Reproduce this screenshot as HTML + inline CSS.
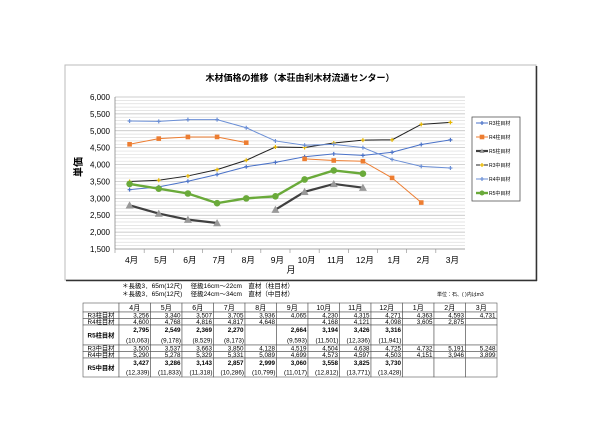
<!DOCTYPE html>
<html><head><meta charset="utf-8"><style>
body{margin:0;background:#fff;width:600px;height:424px;overflow:hidden}
svg{display:block}
text{font-family:"Liberation Sans","Noto Sans CJK JP",sans-serif;fill:#000}
</style></head><body>
<svg id="s" width="600" height="424" viewBox="0 0 600 424">
<rect x="65" y="65" width="471" height="215" fill="#fff" stroke="#bbb" stroke-width="1"/>
<line x1="66" y1="280.5" x2="537" y2="280.5" stroke="#333" stroke-width="1.5"/>
<line x1="536.5" y1="66" x2="536.5" y2="281" stroke="#333" stroke-width="1.5"/>
<text x="300" y="81" font-size="9" font-weight="bold" text-anchor="middle">木材価格の推移（本荘由利木材流通センター）</text>
<g id="grid"></g>
<g id="axes"></g>
<g id="series"></g>
<text x="0" y="0" font-size="10" font-weight="bold" transform="translate(82,167) rotate(-90)" text-anchor="middle">単価</text>
<text x="291" y="273" font-size="9" text-anchor="middle">月</text>
<g><rect x="472" y="117" width="48" height="84" fill="#fff" stroke="#555" stroke-width="0.8"/><g id="legend"></g></g>
<text x="122" y="288" font-size="6.5">＊長級3．65m(12尺)　 径級16cm～22cm　直材（柱目材）</text>
<text x="122" y="296" font-size="6.5">＊長級3．65m(12尺)　 径級24cm～34cm　直材（中目材）</text>
<text x="437" y="296" font-size="5">単位：石、( )内はm3</text>
<g id="table"></g>
</svg>
<script>
const months=["4月","5月","6月","7月","8月","9月","10月","11月","12月","1月","2月","3月"];
const r3Hashira=[3256,3340,3507,3705,3936,4065,4230,4315,4271,4363,4593,4731];
const r4Hashira=[4600,4768,4816,4817,4648,null,4168,4121,4098,3605,2875,null];
const r5Hashira=[2795,2549,2369,2270,null,2664,3194,3426,3316,null,null,null];
const r5HashiraM3=["(10,063)","(9,178)","(8,529)","(8,173)","","(9,593)","(11,501)","(12,336)","(11,941)","","",""];
const r3Naka=[3500,3537,3663,3850,4128,4519,4504,4638,4725,4732,5191,5248];
const r4Naka=[5290,5278,5329,5331,5089,4699,4573,4597,4503,4151,3946,3899];
const r5Naka=[3427,3286,3143,2857,2999,3060,3558,3825,3730,null,null,null];
const r5NakaM3=["(12,339)","(11,833)","(11,318)","(10,286)","(10,799)","(11,017)","(12,812)","(13,771)","(13,428)","","",""];
const yTicks=[1500,2000,2500,3000,3500,4000,4500,5000,5500,6000];
const seriesNames=["R3柱目材","R4柱目材","R5柱目材","R3中目材","R4中目材","R5中目材"];

const NS="http://www.w3.org/2000/svg";
const px0=115,px1=465,py0=249,py1=97,ymin=1500,ymax=6000;
const cw=(px1-px0)/months.length;
const xS=i=>px0+(i+0.5)*cw;
const yS=v=>py0-(v-ymin)/(ymax-ymin)*(py0-py1);
function el(tag,attrs,parent,txt){const e=document.createElementNS(NS,tag);for(const k in attrs)e.setAttribute(k,attrs[k]);if(txt!==undefined)e.textContent=txt;parent.appendChild(e);return e;}
const grid=document.getElementById('grid'),axes=document.getElementById('axes'),ser=document.getElementById('series');
el('rect',{x:px0,y:py1,width:px1-px0,height:py0-py1,fill:'#fff'},grid);
for(let v=ymin+100;v<ymax;v+=100){const g=el('line',{x1:px0,x2:px1,y1:yS(v),y2:yS(v),stroke:v%500===0?'#bbb':'#ddd','stroke-width':0.7},grid);

}
el('line',{x1:px0,x2:px1,y1:py1,y2:py1,stroke:'#bbb','stroke-width':0.7},grid);
el('line',{x1:px0,x2:px0,y1:py1,y2:py0,stroke:'#888','stroke-width':0.8},axes);
el('line',{x1:px0,x2:px1,y1:py0,y2:py0,stroke:'#888','stroke-width':0.8},axes);
yTicks.forEach(v=>{const t=el('text',{x:px0-5,y:yS(v)+3,'font-size':8,'text-anchor':'end'},axes,v.toLocaleString('en-US'));

});
months.forEach((m,i)=>{el('line',{x1:px0+i*cw,x2:px0+i*cw,y1:py0,y2:py0+4,stroke:'#888','stroke-width':0.6},axes);
const t=el('text',{x:xS(i)+2,y:py0+14,'font-size':8.5,'text-anchor':'middle'},axes,m);

});
const styles=[
{d:r3Hashira,c:'#4a72c8',w:1,m:'star',mc:'#4a72c8',ms:2},
{d:r4Hashira,c:'#ed7d31',w:1,m:'sq',mc:'#ed7d31',ms:2.3},
{d:r5Hashira,c:'#404040',w:2.2,m:'tri',mc:'#999',ms:4},
{d:r3Naka,c:'#222',w:1,m:'star',mc:'#e8b800',ms:2},
{d:r4Naka,c:'#6b8fd6',w:1,m:'star',mc:'#6b8fd6',ms:2},
{d:r5Naka,c:'#6aaa3a',w:2.4,m:'circ',mc:'#6aaa3a',ms:3.3}];
function marker(p,s,x,y,size){
 if(s.m==='sq')return el('rect',{x:x-size,y:y-size,width:2*size,height:2*size,fill:s.mc},p);
 if(s.m==='circ')return el('circle',{cx:x,cy:y,r:size,fill:s.mc},p);
 if(s.m==='tri')return el('polygon',{points:`${x},${y-size} ${x-size},${y+size*0.8} ${x+size},${y+size*0.8}`,fill:s.mc},p);
 return el('path',{d:`M${x-size} ${y}H${x+size}M${x} ${y-size}V${y+size}`,stroke:s.mc,'stroke-width':1.2},p);
}
styles.forEach((s,k)=>{
 const g=el('g',{},ser);
 
 
 let segs=[],cur=[];
 s.d.forEach((v,i)=>{if(v===null){if(cur.length)segs.push(cur);cur=[];}else cur.push([xS(i),yS(v)]);});
 if(cur.length)segs.push(cur);
 segs.forEach(sg=>{if(sg.length>1)el('polyline',{points:sg.map(p=>p.join(',')).join(' '),fill:'none',stroke:s.c,'stroke-width':s.w},g);});
 s.d.forEach((v,i)=>{if(v!==null){const mk=marker(g,s,xS(i),yS(v),s.ms);
 
 }});
});
const lg=document.getElementById('legend');
styles.forEach((s,k)=>{const y=123+k*14;
 el('line',{x1:476,x2:488,y1:y,y2:y,stroke:s.c,'stroke-width':s.w},lg);
 marker(lg,s,482,y,Math.min(s.ms,2.5));
 const t=el('text',{x:489,y:y+2,'font-size':5},lg,seriesNames[k]);
 
 });
// table
const tb=document.getElementById('table');
const tx0=83,lw=36,tcw=(497-119)/12;
const rows=[
 {label:"",vals:months,h:9,hdr:true},
 {label:"R3柱目材",vals:r3Hashira,h:6.5},
 {label:"R4柱目材",vals:r4Hashira,h:6.5},
 {label:"R5柱目材",vals:r5Hashira,sub:r5HashiraM3,h:20,bold:true},
 {label:"R3中目材",vals:r3Naka,h:6.5},
 {label:"R4中目材",vals:r4Naka,h:6.5},
 {label:"R5中目材",vals:r5Naka,sub:r5NakaM3,h:19,bold:true}];
let y=303;
rows.forEach(r=>{
 el('rect',{x:tx0,y:y,width:lw,height:r.h,fill:'#fff',stroke:'#555','stroke-width':0.6},tb);
 const lt=el('text',{x:tx0+lw/2,y:y+r.h/2+2.3,'font-size':6.3,'text-anchor':'middle','font-weight':r.bold?'bold':'normal'},tb,r.label);
 
 
 r.vals.forEach((v,i)=>{const cx=tx0+lw+i*tcw;
  el('rect',{x:cx,y:y,width:tcw,height:r.h,fill:'#fff',stroke:'#555','stroke-width':0.6},tb);
  if(r.hdr){el('text',{x:cx+tcw/2,y:y+7,'font-size':7,'text-anchor':'middle'},tb,v);return;}
  if(v===null)return;
  const s=v.toLocaleString('en-US');
  if(r.sub){el('text',{x:cx+tcw-1.5,y:y+7,'font-size':6.3,'text-anchor':'end','font-weight':'bold'},tb,s);
   el('text',{x:cx+tcw-1,y:y+r.h-2.5,'font-size':6.3,'text-anchor':'end'},tb,r.sub[i]);}
  else el('text',{x:cx+tcw-1.5,y:y+r.h-1.2,'font-size':6.3,'text-anchor':'end'},tb,s);
 });
 y+=r.h;
});
</script>
</body></html>
